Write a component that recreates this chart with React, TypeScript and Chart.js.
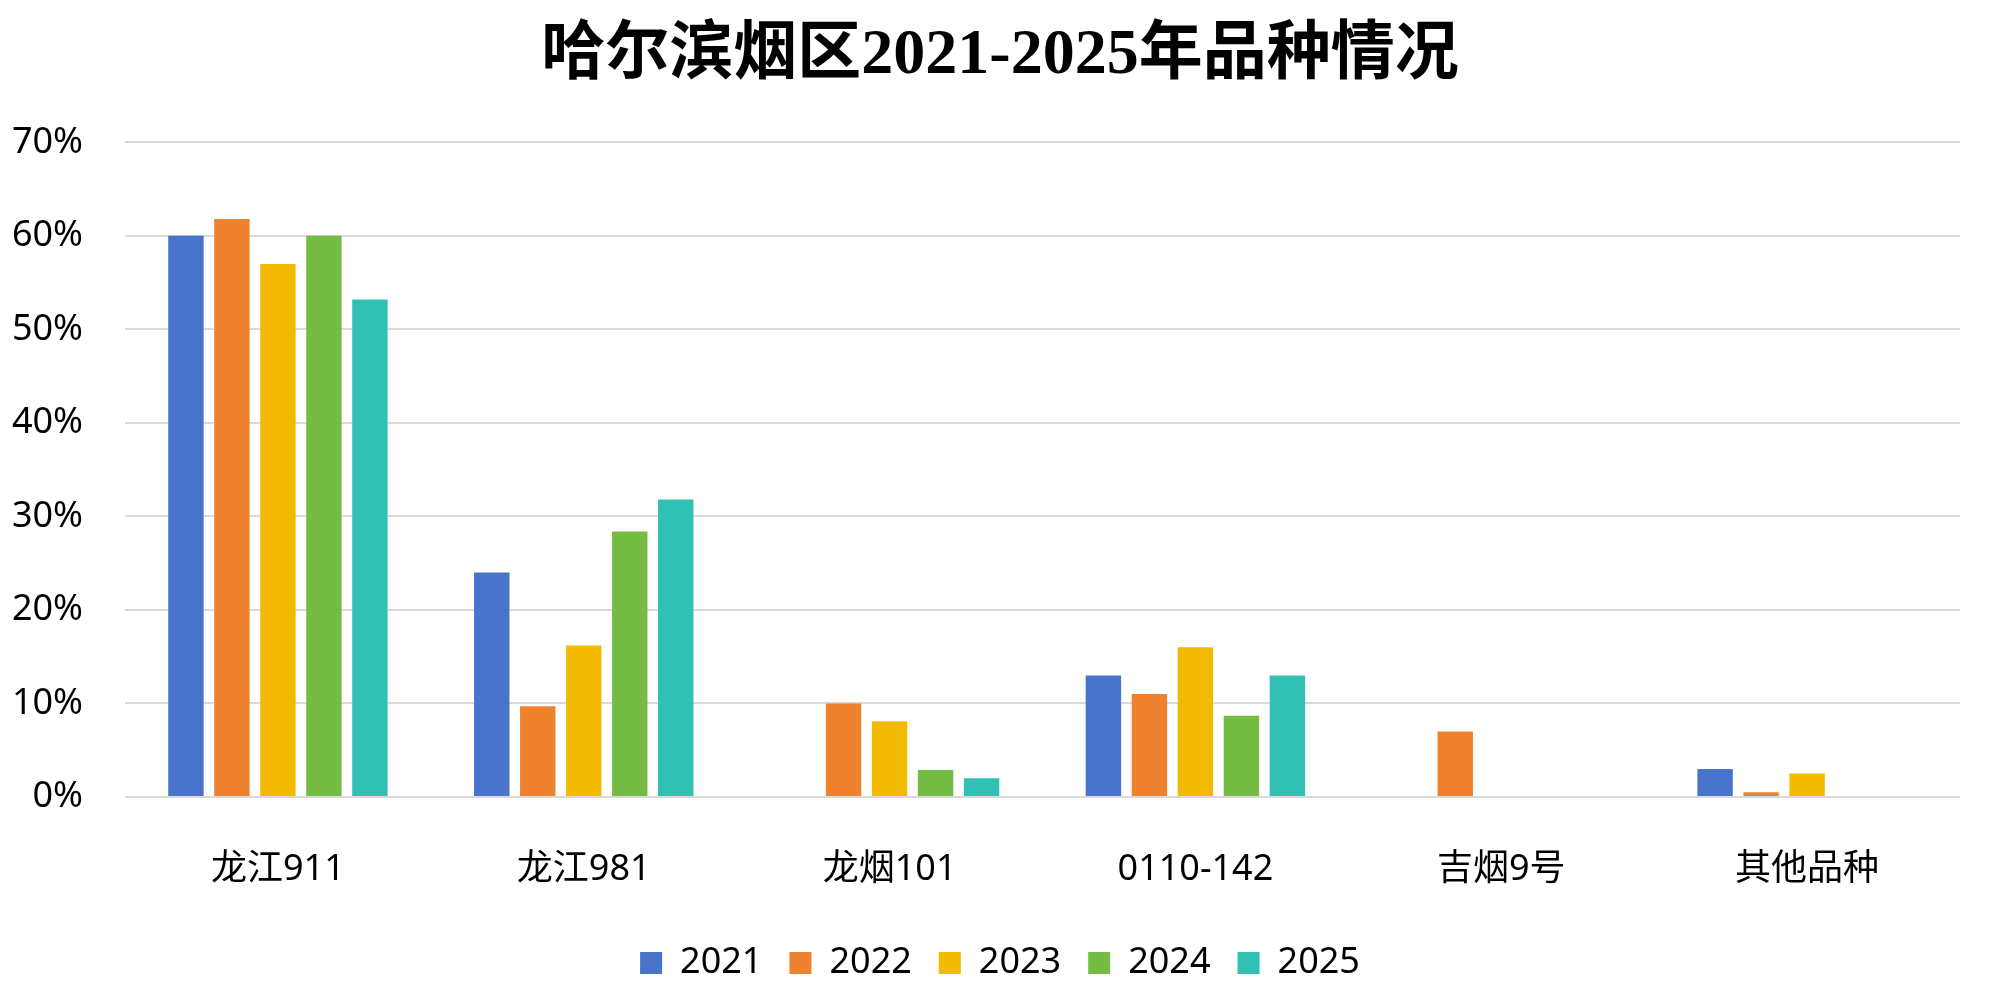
import React, { useEffect, useRef } from "react";
import { Chart, registerables } from "chart.js";

Chart.register(...registerables);

const TITLE = "哈尔滨烟区2021-2025年品种情况";
const categories = ["龙江911", "龙江981", "龙烟101", "0110-142", "吉烟9号", "其他品种"];
const seriesNames = ["2021", "2022", "2023", "2024", "2025"];
const values2021 = [60, 24, 0, 13, 0, 3];
const values2022 = [61.8, 9.7, 10, 11, 7, 0.5];
const values2023 = [57, 16.2, 8.1, 16, 0, 2.5];
const values2024 = [60, 28.4, 2.9, 8.7, 0, 0];
const values2025 = [53.2, 31.8, 2, 13, 0, 0];
const seriesColors = ["#4874CB", "#EE822F", "#F2BA02", "#75BD42", "#30C0B4"];
const yTicks = [0, 10, 20, 30, 40, 50, 60, 70];

const allValues = [values2021, values2022, values2023, values2024, values2025];

const FONT = "'Noto Sans', 'Noto Sans CJK SC', sans-serif";

export default function App() {
  const canvasRef = useRef<HTMLCanvasElement | null>(null);

  useEffect(() => {
    const canvas = canvasRef.current;
    if (!canvas) return;
    const chart = new Chart(canvas, {
      type: "bar",
      data: {
        labels: categories,
        datasets: seriesNames.map((name, i) => ({
          label: name,
          data: allValues[i],
          backgroundColor: seriesColors[i],
          borderWidth: 0,
          categoryPercentage: 0.752,
          barPercentage: 0.77,
        })),
      },
      options: {
        responsive: false,
        animation: false,
        layout: { padding: { left: 0, right: 0, top: 0, bottom: 8 } },
        plugins: {
          title: {
            display: true,
            text: TITLE,
            color: "#000000",
            font: { family: "'Liberation Serif', 'Noto Sans CJK SC', serif", size: 64, weight: "bold", lineHeight: 1.2 },
            padding: { top: 17.6, bottom: 47.9 },
          },
          legend: {
            display: true,
            position: "bottom",
            labels: {
              color: "#000000",
              font: { family: FONT, size: 36 },
              boxWidth: 22,
              boxHeight: 22,
              padding: 27,
            },
          },
          tooltip: { enabled: false },
        },
        scales: {
          x: {
            grid: { display: false, drawTicks: false },
            border: { display: false },
            ticks: {
              color: "#000000",
              font: { family: FONT, size: 36 },
              padding: 51,
              maxRotation: 0,
              autoSkip: false,
            },
            afterFit: (scale: any) => {
              scale.height = 121;
            },
          },
          y: {
            min: 0,
            max: 70,
            afterBuildTicks: (scale: any) => {
              scale.ticks = yTicks.map((v) => ({ value: v }));
            },
            grid: { color: "#D9D9D9", lineWidth: 2, drawTicks: false },
            border: { display: false },
            ticks: {
              color: "#000000",
              font: { family: FONT, size: 36 },
              padding: 42,
              callback: (v: any) => `${v}%`,
            },
            afterFit: (scale: any) => {
              scale.width = 125;
            },
          },
          yRight: {
            position: "right",
            min: 0,
            max: 70,
            grid: { display: false, drawTicks: false },
            border: { display: false },
            ticks: { display: false },
            afterFit: (scale: any) => {
              scale.width = 40;
            },
          },
        },
      },
    });
    return () => chart.destroy();
  }, []);

  return (
    <div style={{ position: "fixed", left: 0, top: 0, width: 2000, height: 999, background: "#ffffff" }}>
      <canvas ref={canvasRef} width={2000} height={999} style={{ display: "block" }} />
    </div>
  );
}
